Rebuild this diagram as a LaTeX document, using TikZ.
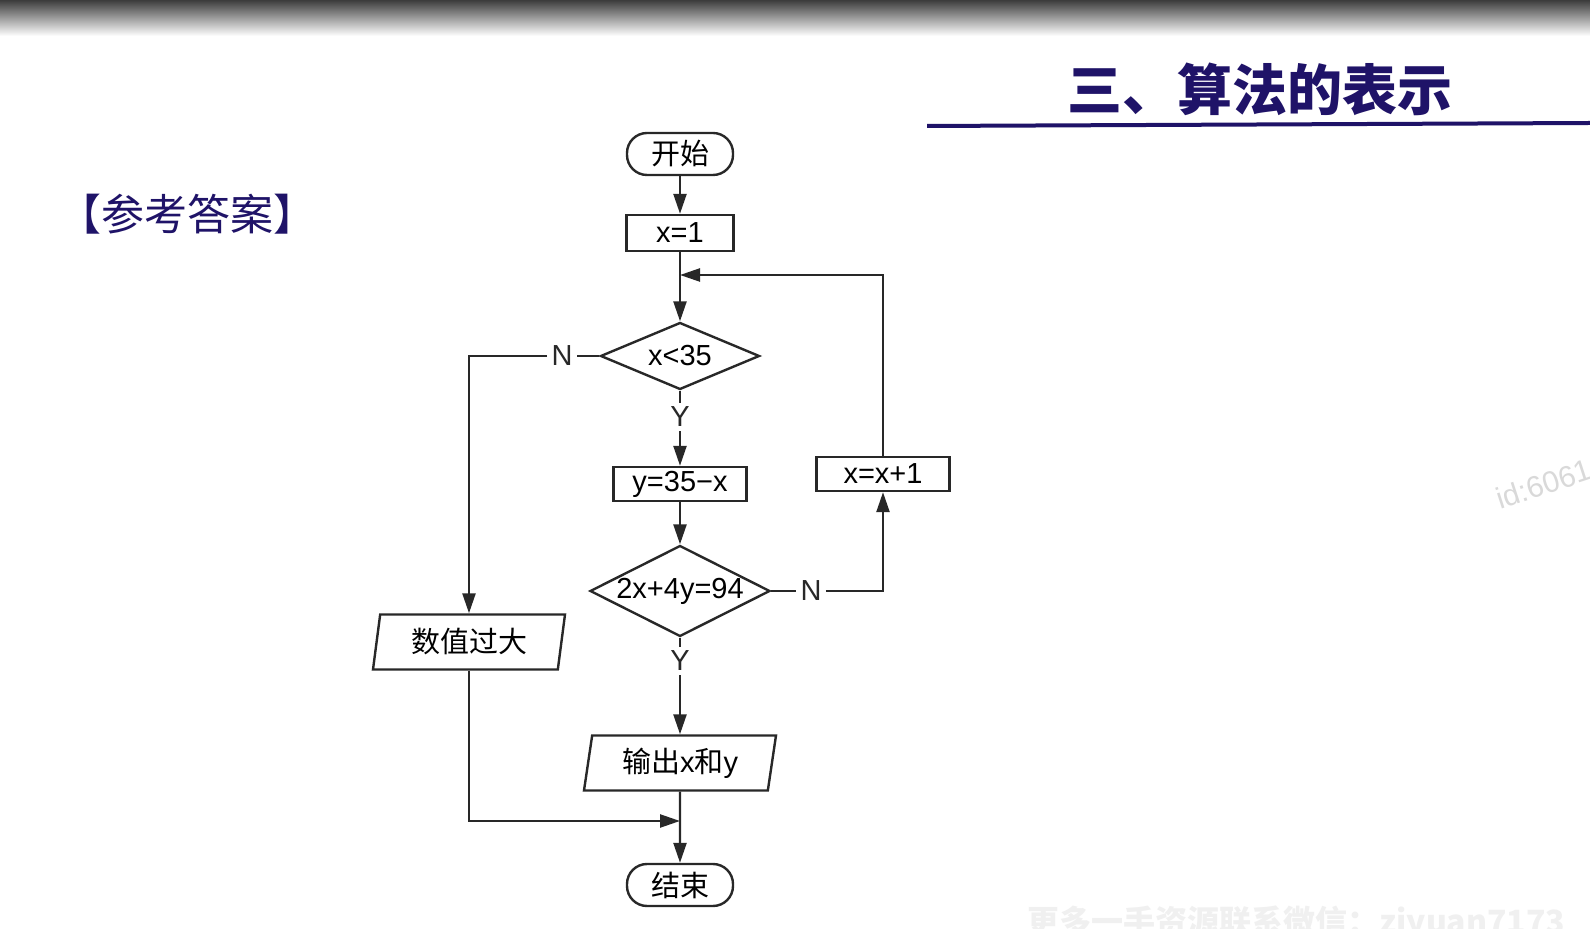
\documentclass[tikz,border=0pt]{standalone}
\usepackage{fontspec}
\setmainfont{Liberation Sans}
\newfontfamily\cjk{Noto Sans CJK SC}
\usetikzlibrary{shapes.geometric,positioning,arrows.meta}
\definecolor{navy}{RGB}{31,19,104}
\definecolor{linegray}{RGB}{40,40,40}
\newcommand{\flowfont}{\fontsize{14.5pt}{17pt}\selectfont}

\tikzset{
  block/.style={draw=linegray, line width=1.2pt, font=\flowfont, inner sep=0pt, align=center},
  startstop/.style={block, rectangle, rounded corners=10pt, minimum width=53pt, minimum height=21pt},
  process/.style={block, rectangle, minimum width=53.5pt, minimum height=18pt},
  decision/.style={block, diamond},
  io/.style={block, trapezium, trapezium left angle=75, trapezium right angle=105,
    trapezium stretches body, minimum width=96pt, minimum height=27.5pt},
  lbl/.style={font=\flowfont, inner sep=2pt, text=linegray},
  line/.style={draw=linegray, line width=1.2pt},
}

\begin{document}
\begin{tikzpicture}[x=0.5pt, y=-0.5pt, >={Triangle[length=10pt,width=6.5pt]}]
\useasboundingbox (0,0) rectangle (1590,929);
% Hintergrund
\fill[white] (0,0) rectangle (1590,929);
% Leiste oben
\shade[top color={rgb,255:red,60;green,60;blue,60}, bottom color=white] (0,0) rectangle (1590,36);

% Titel
\node[text=navy, font=\cjk\bfseries\fontsize{27.5pt}{30pt}\selectfont] (title) at (1260,89) {三、算法的表示};
\draw[navy, line width=2pt] (927,126) -- (1590,123);
\node[text=navy, font=\cjk\fontsize{21.5pt}{24pt}\selectfont] (ans) at (187,214) {【参考答案】};

% Knoten
\node[startstop] (start) at (680,154) {\cjk 开始};
\node[process] (init) at (680,233) {x=1};
\coordinate (junc) at (680,275);
\node[decision, aspect=2.4, minimum width=79.5pt, minimum height=33.5pt] (dec1) at (680,356) {x<35};
\node[lbl] (n1) at (562,356) {N};
\node[lbl] (y1) at (680,417) {Y};
\node[process, minimum width=66.5pt, minimum height=17pt] (calc) at (680,484) {y=35−x};
\node[process, minimum width=66.5pt, minimum height=17pt] (inc) at (883,474) {x=x+1};
\node[decision, aspect=2, minimum width=90pt, minimum height=45.5pt] (dec2) at (680,591) {2x+4y=94};
\node[lbl] (n2) at (811,591) {N};
\node[lbl] (y2) at (680,661) {Y};
\node[io] (big) at (469,642) {\cjk 数值过大};
\node[io] (out) at (680,763) {{\cjk 输出}x{\cjk 和}y};
\coordinate (merge) at (680,821);
\node[startstop] (stop) at (680,885) {\cjk 结束};

% Pfeile
\draw[line,->] (start) -- (init);
\draw[line,->] (init) -- (dec1);
\draw[line,->] (inc) |- (junc);
\draw[line] (dec1) -- (n1);
\draw[line,->] (n1) -| (big);
\draw[line] (dec1) -- (y1);
\draw[line,->] (y1) -- (calc);
\draw[line,->] (calc) -- (dec2);
\draw[line] (dec2) -- (n2);
\draw[line,->] (n2) -| (inc);
\draw[line] (dec2) -- (y2);
\draw[line,->] (y2) -- (out);
\draw[line,->] (big) |- (merge);
\draw[line,->] (out) -- (stop);

% Wasserzeichen
\node[text=gray!30, font=\fontsize{15pt}{17pt}\selectfont, rotate=18, anchor=south west, inner sep=0pt] (wm) at (1500,510) {id:6061};
\node[text=gray!12, font=\cjk\bfseries\fontsize{16pt}{18pt}\selectfont, anchor=north west, inner sep=0pt] (wm2) at (1027,905) {更多一手资源联系微信：ziyuan7173};
\end{tikzpicture}
\end{document}
